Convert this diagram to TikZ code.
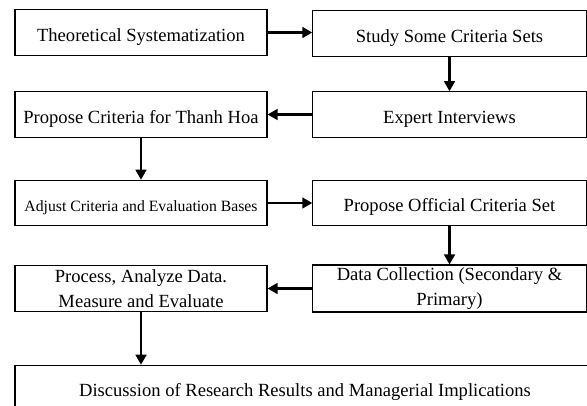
\documentclass[tikz,border=0pt]{standalone}
\usepackage{fontspec}
\setmainfont{Liberation Serif}
\usetikzlibrary{arrows.meta, positioning, calc}

\tikzset{
    leftbox/.style={draw, line width=0.8pt, minimum width=176.4pt, minimum height=31.8pt,
        inner sep=2pt, align=center, font=\fontsize{13}{17}\selectfont},
    rightbox/.style={leftbox, minimum width=191.3pt},
    lowtext/.style={text height=15pt, text depth=3pt},
    flow/.style={line width=1.6pt, -{Triangle[length=7pt, width=7.5pt]}}
}

\begin{document}
\begin{tikzpicture}[x=0.7pt, y=-0.7pt]
        \clip (0,0) rectangle (587,405);

        % Row 1
        \node[leftbox, lowtext] (theory) at (141,32.5) {Theoretical Systematization};
        \node[rightbox, lowtext] (study) at (449.5,33.5) {Study Some Criteria Sets};

        % Row 2
        \node[leftbox, lowtext] (propose) at (141,114.5) {Propose Criteria for Thanh Hoa};
        \node[rightbox, lowtext] (expert) at (449.5,114.5) {Expert Interviews};

        % Row 3
        \node[leftbox, lowtext, font=\fontsize{11}{13}\selectfont] (adjust) at (141,203) {Adjust Criteria and Evaluation Bases};
        \node[rightbox, lowtext] (official) at (449.5,203) {Propose Official Criteria Set};

        % Row 4
        \node[leftbox] (process) at (141,288.5) {Process, Analyze Data.\\Measure and Evaluate};
        \node[rightbox] (collect) at (449.5,288.5) {Data Collection (Secondary \&\\Primary)};

        % Last box (runs past the right edge)
        \node[leftbox, lowtext, minimum width=406pt] (discuss) at (305,388) {Discussion of Research Results and Managerial Implications};

        % Arrows
        \draw[flow] (theory.east) -- (theory.east -| study.west);
        \draw[flow] (study.south) -- (expert.north);
        \draw[flow] (expert.west) -- (expert.west -| propose.east);
        \draw[flow] (propose.south) -- (adjust.north);
        \draw[flow] (adjust.east) -- (adjust.east -| official.west);
        \draw[flow] (official.south) -- (collect.north);
        \draw[flow] (collect.west) -- (collect.west -| process.east);
        \draw[flow] (process.south) -- (process.south |- discuss.north);
    \end{tikzpicture}
\end{document}
